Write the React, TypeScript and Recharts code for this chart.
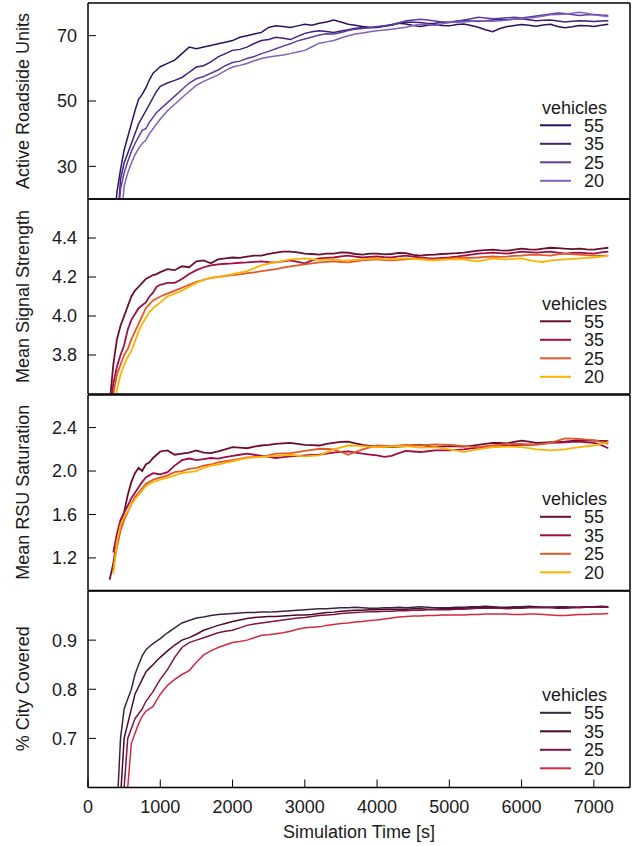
import React from 'react'
import { LineChart, Line, XAxis, YAxis } from 'recharts'

// shared time axis (seconds): 50 s steps during the ramp-up, then 100 s
const TIME = [
  300, 350, 400, 450, 500, 550, 600, 650, 700, 750, 800, 850, 900, 950,
  1000, 1100, 1200, 1300, 1400, 1500, 1600, 1700, 1800, 1900,
  2000, 2100, 2200, 2300, 2400, 2500, 2600, 2700, 2800, 2900,
  3000, 3100, 3200, 3300, 3400, 3500, 3600, 3700, 3800, 3900,
  4000, 4100, 4200, 4300, 4400, 4500, 4600, 4700, 4800, 4900,
  5000, 5100, 5200, 5300, 5400, 5500, 5600, 5700, 5800, 5900,
  6000, 6100, 6200, 6300, 6400, 6500, 6600, 6700, 6800, 6900,
  7000, 7100, 7200,
]
const X_TICKS = [0, 1000, 2000, 3000, 4000, 5000, 6000, 7000]
const VEHICLES = ['55', '35', '25', '20']

// Active Roadside Units
const RSU_55 = [
  10, 10, 22, 29, 35, 39, 43, 47, 50.5, 52, 54, 56.5, 58.5, 59.5,
  60.5, 61.5, 62.5, 64.5, 66.5, 66, 66.5, 67, 67.5, 68,
  68.5, 69.5, 70, 70.5, 71, 72.5, 73, 72.8, 72.5, 73,
  73.5, 73.2, 73.8, 74.2, 74.8, 74.2, 73.5, 73.2, 72.8, 72.6,
  72.5, 72.9, 73.2, 73.8, 73.6, 73.1, 72.8, 73.2, 73.4, 73.1,
  73.0, 73.4, 73.6, 73.1, 72.6, 71.8, 71.2, 72.2, 72.8, 73.1,
  73.4, 73.2, 72.9, 73.3, 73.5, 72.8, 72.4, 72.7, 73.1, 73.0,
  72.8, 73.2, 73.5,
]
const RSU_35 = [
  10, 10, 10, 26, 31, 34, 37, 40, 43, 45, 47, 49, 51, 53,
  54.5, 55.5, 56.3, 57.2, 58.8, 60.4, 60.8, 62, 63.5, 64.5,
  65.5, 65.8, 66.5, 67.6, 68.5, 68.8, 69.5, 69.2, 68.8, 69.8,
  70.7, 71.2, 71.5, 71.3, 71, 71.4, 71.8, 72.3, 72.5, 72.4,
  72.6, 73, 73.4, 73.9, 74.2, 74.1, 74, 73.7, 73.8, 74.1,
  74.2, 74.4, 74.6, 74.5, 74.3, 74.6, 74.8, 75.0, 74.9, 75.1,
  75.2, 74.9, 74.6, 74.7, 74.8, 74.5, 74.2, 74.4, 74.6, 74.5,
  74.3, 74.5, 74.6,
]
const RSU_25 = [
  10, 10, 10, 23, 28, 31.5, 34.5, 37, 39, 41, 41.5, 43.5, 45, 46.5,
  47.5, 49.5, 51.5, 53.5, 55.5, 56.8, 57.5, 58.5, 59.5, 60.8,
  61.8, 62.2, 63, 63.6, 64.5, 65.2, 66, 66.8, 67.5, 68.4,
  69, 69.6, 70.2, 70.6, 70.5, 71, 71.6, 72, 72.2, 72.5,
  72.8, 73, 73.2, 73.9, 74.6, 74.8, 75, 74.8, 74.5, 74.2,
  74, 74.4, 74.8, 75.2, 75.6, 75.4, 75.2, 75.3, 75.5, 75.6,
  75.4, 75.7, 76, 76.3, 76.6, 76.9, 76.8, 76.5, 76.2, 76.4,
  76.5, 76.3, 76.2,
]
const RSU_20 = [
  10, 10, 10, 10, 24, 28, 31, 33.5, 35.5, 37, 38, 40, 41.5, 43,
  44.5, 47, 49, 51, 53, 54.8, 56, 57, 58, 59.3,
  60.4, 60.9, 61.5, 62.3, 63, 63.5, 63.8, 64.1, 64.5, 65,
  65.5, 66.6, 67.7, 68.1, 68.5, 69.3, 70, 70.5, 70.8, 71.2,
  71.5, 71.7, 72, 72.3, 72.6, 73.1, 73.5, 73.4, 73.2, 73.6,
  74, 74.1, 74.2, 74.4, 74.6, 74.5, 74.4, 74.6, 74.8, 75,
  75.2, 75.4, 75.6, 76, 76.4, 76.5, 76.6, 76.9, 77.2, 76.9,
  76.4, 76.1, 75.9,
]

// Mean Signal Strength
const SIG_55 = [
  3.55, 3.75, 3.88, 3.95, 4.0, 4.05, 4.1, 4.13, 4.15, 4.17, 4.19, 4.2, 4.21, 4.215,
  4.225, 4.24, 4.235, 4.255, 4.25, 4.28, 4.285, 4.27, 4.29, 4.295,
  4.3, 4.298, 4.305, 4.31, 4.31, 4.318, 4.325, 4.33, 4.33, 4.326,
  4.32, 4.318, 4.315, 4.32, 4.32, 4.326, 4.325, 4.318, 4.315, 4.32,
  4.32, 4.316, 4.318, 4.324, 4.322, 4.314, 4.31, 4.313, 4.315, 4.318,
  4.32, 4.322, 4.325, 4.33, 4.335, 4.338, 4.34, 4.337, 4.335, 4.34,
  4.345, 4.342, 4.34, 4.346, 4.35, 4.348, 4.345, 4.343, 4.345, 4.342,
  4.34, 4.346, 4.35,
]
const SIG_35 = [
  3.5, 3.65, 3.74, 3.8, 3.85, 3.93, 3.98, 4.01, 4.04, 4.055, 4.07, 4.1, 4.12, 4.15,
  4.16, 4.17, 4.17, 4.19, 4.215, 4.235, 4.25, 4.26, 4.265, 4.268,
  4.27, 4.273, 4.275, 4.278, 4.28, 4.276, 4.275, 4.28, 4.285, 4.277,
  4.27, 4.285, 4.295, 4.298, 4.3, 4.306, 4.31, 4.304, 4.3, 4.303,
  4.305, 4.302, 4.3, 4.306, 4.31, 4.305, 4.3, 4.297, 4.295, 4.298,
  4.3, 4.305, 4.31, 4.315, 4.32, 4.322, 4.325, 4.322, 4.32, 4.325,
  4.33, 4.328, 4.325, 4.328, 4.33, 4.325, 4.32, 4.323, 4.325, 4.322,
  4.32, 4.326, 4.33,
]
const SIG_25 = [
  3.4, 3.6, 3.7, 3.75, 3.8, 3.83, 3.88, 3.92, 3.96, 4.0, 4.04, 4.06, 4.08, 4.09,
  4.1, 4.115, 4.13, 4.145, 4.16, 4.175, 4.185, 4.195, 4.2, 4.204,
  4.21, 4.214, 4.22, 4.224, 4.23, 4.235, 4.24, 4.248, 4.255, 4.26,
  4.265, 4.27, 4.275, 4.278, 4.28, 4.277, 4.275, 4.28, 4.285, 4.288,
  4.29, 4.287, 4.285, 4.288, 4.29, 4.293, 4.295, 4.292, 4.29, 4.293,
  4.295, 4.298, 4.3, 4.298, 4.3, 4.303, 4.305, 4.303, 4.305, 4.308,
  4.31, 4.313, 4.315, 4.312, 4.31, 4.316, 4.32, 4.318, 4.315, 4.312,
  4.31, 4.308, 4.31,
]
const SIG_20 = [
  3.4, 3.5, 3.62, 3.7, 3.75, 3.79, 3.82, 3.87, 3.92, 3.96, 3.99, 4.02, 4.04, 4.055,
  4.07, 4.1, 4.115, 4.13, 4.15, 4.17, 4.185, 4.195, 4.2, 4.207,
  4.215, 4.222, 4.23, 4.245, 4.26, 4.268, 4.275, 4.283, 4.29, 4.293,
  4.295, 4.291, 4.288, 4.289, 4.29, 4.287, 4.285, 4.288, 4.29, 4.293,
  4.295, 4.292, 4.29, 4.293, 4.296, 4.293, 4.29, 4.287, 4.285, 4.288,
  4.29, 4.291, 4.29, 4.284, 4.28, 4.288, 4.295, 4.292, 4.29, 4.293,
  4.295, 4.287, 4.28, 4.277, 4.285, 4.288, 4.29, 4.293, 4.295, 4.298,
  4.3, 4.305, 4.31,
]

// Mean RSU Saturation
const SAT_55 = [
  1.0, 1.15, 1.35, 1.48, 1.62, 1.78, 1.9, 1.98, 2.03, 2.0, 2.06, 2.08, 2.12, 2.15,
  2.18, 2.19, 2.15, 2.16, 2.17, 2.19, 2.17, 2.165, 2.18, 2.2,
  2.22, 2.215, 2.21, 2.225, 2.235, 2.24, 2.25, 2.255, 2.26, 2.25,
  2.24, 2.238, 2.235, 2.25, 2.26, 2.268, 2.27, 2.255, 2.24, 2.232,
  2.225, 2.222, 2.22, 2.225, 2.23, 2.236, 2.24, 2.23, 2.22, 2.225,
  2.23, 2.228, 2.225, 2.232, 2.24, 2.25, 2.26, 2.258, 2.255, 2.268,
  2.28, 2.27, 2.26, 2.262, 2.265, 2.268, 2.27, 2.278, 2.285, 2.283,
  2.28, 2.277, 2.275,
]
const SAT_35 = [
  null, 1.25, 1.42, 1.55, 1.62, 1.68, 1.75, 1.8, 1.85, 1.9, 1.94, 1.96, 1.98, 1.975,
  1.97, 1.99, 2.05, 2.1, 2.115, 2.1, 2.11, 2.12, 2.115, 2.128,
  2.14, 2.15, 2.16, 2.15, 2.14, 2.13, 2.12, 2.128, 2.135, 2.14,
  2.145, 2.148, 2.15, 2.16, 2.17, 2.176, 2.18, 2.17, 2.16, 2.152,
  2.145, 2.13, 2.14, 2.165, 2.185, 2.18, 2.175, 2.182, 2.19, 2.19,
  2.19, 2.195, 2.2, 2.208, 2.215, 2.218, 2.22, 2.228, 2.235, 2.238,
  2.24, 2.242, 2.245, 2.252, 2.26, 2.262, 2.265, 2.268, 2.27, 2.265,
  2.26, 2.24, 2.21,
]
const SAT_25 = [
  null, 1.1, 1.3, 1.45, 1.55, 1.62, 1.7, 1.76, 1.8, 1.84, 1.88, 1.9, 1.92, 1.93,
  1.94, 1.96, 1.99, 2.0, 2.02, 2.03, 2.05, 2.06, 2.08, 2.09,
  2.1, 2.112, 2.125, 2.128, 2.13, 2.145, 2.16, 2.163, 2.165, 2.175,
  2.185, 2.195, 2.205, 2.203, 2.2, 2.175, 2.15, 2.175, 2.2, 2.218,
  2.235, 2.232, 2.23, 2.235, 2.24, 2.238, 2.235, 2.24, 2.245, 2.243,
  2.24, 2.235, 2.23, 2.225, 2.22, 2.228, 2.235, 2.243, 2.25, 2.25,
  2.25, 2.245, 2.24, 2.25, 2.26, 2.28, 2.3, 2.298, 2.295, 2.29,
  2.285, 2.268, 2.25,
]
const SAT_20 = [
  null, 1.05, 1.35, 1.5, 1.58, 1.63, 1.69, 1.74, 1.78, 1.82, 1.86, 1.88, 1.9, 1.91,
  1.92, 1.94, 1.96, 1.98, 1.99, 2.0, 2.03, 2.05, 2.06, 2.075,
  2.09, 2.105, 2.12, 2.125, 2.13, 2.135, 2.14, 2.145, 2.15, 2.142,
  2.135, 2.14, 2.145, 2.172, 2.2, 2.218, 2.235, 2.232, 2.23, 2.225,
  2.22, 2.222, 2.225, 2.228, 2.23, 2.222, 2.215, 2.218, 2.22, 2.21,
  2.2, 2.188, 2.175, 2.188, 2.2, 2.21, 2.22, 2.222, 2.225, 2.222,
  2.22, 2.21, 2.2, 2.195, 2.19, 2.195, 2.2, 2.21, 2.22, 2.228,
  2.235, 2.25, 2.265,
]

// % City Covered
const COV_55 = [
  0.5, 0.5, 0.55, 0.7, 0.76, 0.78, 0.8, 0.83, 0.85, 0.868, 0.88, 0.887, 0.893, 0.898,
  0.903, 0.915, 0.925, 0.935, 0.94, 0.945, 0.947, 0.95, 0.952, 0.953,
  0.954, 0.955, 0.956, 0.956, 0.957, 0.957, 0.958, 0.959, 0.96, 0.961,
  0.962, 0.963, 0.964, 0.964, 0.965, 0.966, 0.966, 0.967, 0.966, 0.965,
  0.965, 0.966, 0.966, 0.967, 0.966, 0.967, 0.968, 0.967, 0.966, 0.966,
  0.966, 0.967, 0.967, 0.968, 0.968, 0.969, 0.968, 0.967, 0.967, 0.968,
  0.968, 0.969, 0.968, 0.967, 0.967, 0.968, 0.968, 0.967, 0.967, 0.968,
  0.968, 0.969, 0.968,
]
const COV_35 = [
  0.5, 0.5, 0.5, 0.58, 0.7, 0.73, 0.76, 0.79, 0.805, 0.82, 0.835, 0.843, 0.85, 0.858,
  0.865, 0.878, 0.89, 0.9, 0.905, 0.912, 0.92, 0.925, 0.93, 0.934,
  0.938, 0.941, 0.944, 0.946, 0.947, 0.948, 0.948, 0.949, 0.95, 0.951,
  0.951, 0.952, 0.954, 0.956, 0.957, 0.959, 0.96, 0.961, 0.961, 0.962,
  0.962, 0.963, 0.963, 0.963, 0.963, 0.964, 0.964, 0.963, 0.963, 0.964,
  0.964, 0.965, 0.965, 0.966, 0.966, 0.967, 0.967, 0.966, 0.966, 0.966,
  0.966, 0.967, 0.967, 0.967, 0.967, 0.966, 0.966, 0.967, 0.967, 0.968,
  0.968, 0.968, 0.968,
]
const COV_25 = [
  0.5, 0.5, 0.5, 0.5, 0.6, 0.7, 0.72, 0.74, 0.75, 0.76, 0.775, 0.785, 0.795, 0.808,
  0.82, 0.84, 0.865, 0.885, 0.895, 0.9, 0.905, 0.91, 0.915, 0.918,
  0.92, 0.925, 0.93, 0.933, 0.935, 0.937, 0.939, 0.941, 0.943, 0.945,
  0.946, 0.948, 0.95, 0.951, 0.952, 0.954, 0.955, 0.956, 0.957, 0.958,
  0.958, 0.959, 0.959, 0.96, 0.96, 0.961, 0.961, 0.962, 0.962, 0.962,
  0.962, 0.963, 0.963, 0.964, 0.965, 0.965, 0.965, 0.965, 0.964, 0.965,
  0.965, 0.966, 0.966, 0.966, 0.966, 0.965, 0.965, 0.966, 0.966, 0.967,
  0.967, 0.967, 0.967,
]
const COV_20 = [
  0.5, 0.5, 0.5, 0.5, 0.5, 0.6, 0.69, 0.71, 0.73, 0.745, 0.755, 0.76, 0.765, 0.778,
  0.79, 0.808, 0.82, 0.83, 0.838, 0.855, 0.87, 0.878, 0.885, 0.89,
  0.895, 0.897, 0.9, 0.905, 0.91, 0.911, 0.913, 0.915, 0.918, 0.922,
  0.925, 0.926, 0.927, 0.93, 0.932, 0.934, 0.935, 0.937, 0.938, 0.94,
  0.941, 0.943, 0.945, 0.947, 0.948, 0.949, 0.949, 0.95, 0.95, 0.951,
  0.951, 0.951, 0.951, 0.952, 0.952, 0.953, 0.953, 0.953, 0.953, 0.952,
  0.952, 0.953, 0.953, 0.952, 0.951, 0.95, 0.95, 0.951, 0.952, 0.952,
  0.953, 0.953, 0.954,
]

const FONT = '"Liberation Sans", Arial, sans-serif'

const PANELS = [
  { title: 'Active Roadside Units', top: 3, height: 196, domain: [20, 80], ticks: [30, 50, 70], width: 1.5,
    series: [RSU_55, RSU_35, RSU_25, RSU_20], colors: ['#2c115f', '#3f1f7a', '#5c3c9e', '#7e60bd'] },
  { title: 'Mean Signal Strength', top: 199, height: 195, domain: [3.6, 4.6], ticks: [3.8, 4.0, 4.2, 4.4], width: 1.8,
    series: [SIG_55, SIG_35, SIG_25, SIG_20], colors: ['#6b0d2f', '#a00e45', '#e3582a', '#ffb300'] },
  { title: 'Mean RSU Saturation', top: 394.5, height: 195.5, domain: [0.9, 2.7], ticks: [1.2, 1.6, 2.0, 2.4], width: 1.8,
    series: [SAT_55, SAT_35, SAT_25, SAT_20], colors: ['#6b0d2f', '#a00e45', '#e3582a', '#ffb300'] },
  { title: '% City Covered', top: 590.5, height: 196.5, domain: [0.6, 1.0], ticks: [0.7, 0.8, 0.9], width: 1.5,
    series: [COV_55, COV_35, COV_25, COV_20], colors: ['#3b2440', '#4a0a2a', '#7e1444', '#d42a3e'] },
]

const fmt = (digits: number) => (v: number) => v.toFixed(digits)

function Panel({ p, last }: { p: typeof PANELS[number]; last: boolean }) {
  const data = TIME.map((t, i) => ({
    t,
    s0: p.series[0][i],
    s1: p.series[1][i],
    s2: p.series[2][i],
    s3: p.series[3][i],
  }))
  const pad = 5
  const bottom = last ? 60 : pad
  const digits = p.ticks[0] >= 10 ? 0 : 1
  const axisLine = { stroke: '#000', strokeWidth: 1.5 }
  // each axis takes 1px, taken back from the margins
  return (
    <div style={{ position: 'absolute', left: 0, top: p.top - pad }}>
      <LineChart width={638} height={p.height + pad + bottom} data={data}
        margin={{ top: pad - 1, right: 7, bottom: bottom - 1, left: 87 }}>
        <XAxis dataKey="t" type="number" domain={[0, 7500]} ticks={X_TICKS} interval={0}
          height={1} tickSize={-8} tickMargin={21} axisLine={axisLine} tickLine={{ stroke: '#000' }}
          tick={last ? { fill: '#1a1a1a', fontSize: 18, fontFamily: FONT } : false} />
        <XAxis xAxisId="top" orientation="top" dataKey="t" type="number" domain={[0, 7500]}
          ticks={X_TICKS} interval={0} height={1} tickSize={-8} axisLine={axisLine}
          tickLine={{ stroke: '#000' }} tick={false} />
        <YAxis type="number" domain={p.domain} ticks={p.ticks} interval={0} allowDataOverflow
          width={1} tickSize={-8} tickMargin={19} axisLine={axisLine} tickLine={{ stroke: '#000' }}
          tickFormatter={fmt(digits)}
          tick={{ fill: '#1a1a1a', fontSize: 18, fontFamily: FONT }} />
        <YAxis yAxisId="right" orientation="right" type="number" domain={p.domain} width={1}
          axisLine={axisLine} tickLine={false} tick={false} />
        {VEHICLES.map((v, i) => (
          <Line key={v} dataKey={`s${i}`} name={v} type="linear" stroke={p.colors[i]}
            strokeWidth={p.width} dot={false} isAnimationActive={false} />
        ))}
      </LineChart>
    </div>
  )
}

function Overlay() {
  return (
    <svg width={638} height={846} style={{ position: 'absolute', left: 0, top: 0, pointerEvents: 'none' }}
      fontFamily={FONT} fontSize={18} fill="#1a1a1a">
      {PANELS.map((p) => {
        const cy = p.top + p.height / 2
        return (
          <g key={p.title}>
            <text transform={`translate(29,${cy}) rotate(-90)`} textAnchor="middle">{p.title}</text>
            <text x={607} y={p.top + 110.5} textAnchor="end">vehicles</text>
            {VEHICLES.map((v, i) => {
              const y = p.top + 122.3 + i * 18.5
              return (
                <g key={v}>
                  <line x1={540} x2={571} y1={y} y2={y} stroke={p.colors[i]} strokeWidth={2} />
                  <text x={604} y={y + 6.5} textAnchor="end">{v}</text>
                </g>
              )
            })}
          </g>
        )
      })}
      <text x={359} y={838} textAnchor="middle">Simulation Time [s]</text>
    </svg>
  )
}

export default function App() {
  return (
    <div style={{ position: 'absolute', left: 0, top: 0, width: 638, height: 846, background: '#fff' }}>
      {PANELS.map((p, i) => (
        <Panel key={p.title} p={p} last={i === PANELS.length - 1} />
      ))}
      <Overlay />
    </div>
  )
}
